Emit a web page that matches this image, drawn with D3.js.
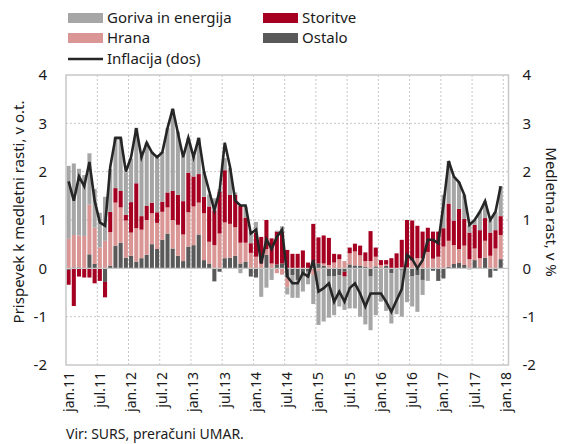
<!DOCTYPE html>
<html>
<head>
<meta charset="utf-8">
<script src="https://d3js.org/d3.v7.min.js"></script>
<style>
  body { margin:0; background:#fff; }
  text { font-family: "Noto Sans", sans-serif; fill:#1a1a1a; }
</style>
</head>
<body>
<div id="chart"></div>
<script>
// x axis labels (every 6th month)
const tickLabels = ["jan.11","jul.11","jan.12","jul.12","jan.13","jul.13","jan.14","jul.14",
                    "jan.15","jul.15","jan.16","jul.16","jan.17","jul.17","jan.18"];
const monthNames = ["jan","feb","mar","apr","maj","jun","jul","avg","sep","okt","nov","dec"];
const yTicks = [-2, -1, 0, 1, 2, 3, 4];

// contributions, jan.11 - dec.17 (p.p.)
const ostalo = [-0.03,0.02,0.02,0.0,0.29,0.09,0.0,-0.28,0.05,0.47,0.53,0.22,
                0.26,0.14,0.21,0.28,0.5,0.4,0.59,0.72,0.41,0.26,0.15,0.45,
                0.48,0.7,0.17,0.1,-0.27,-0.07,0.21,0.22,0.26,0.1,0.14,-0.17,
                -0.19,0.0,0.28,0.0,0.08,0.1,-0.19,-0.14,-0.24,-0.14,-0.07,0.1,
                0.1,0.05,-0.17,-0.17,-0.14,-0.07,0.08,0.06,0.05,0.03,-0.17,0.04,
                0.0,0.05,-0.1,0.0,-0.03,0.0,-0.17,-0.14,-0.24,0.0,-0.05,-0.26,
                -0.21,0.03,0.09,0.11,0.07,-0.02,0.17,0.02,0.22,-0.19,-0.05,0.19];
const hrana = [0.61,0.67,0.66,0.67,1.03,0.75,0.43,0.57,0.7,0.89,0.73,0.77,
               0.48,0.69,0.59,0.72,0.64,0.54,0.58,0.54,0.59,0.64,0.55,0.71,
               0.8,0.66,0.97,0.45,0.48,0.72,0.74,0.7,0.59,0.43,0.39,0.32,
               0.24,0.1,0.12,0.1,-0.1,-0.13,-0.2,0.0,0.0,0.0,0.0,-0.14,
               -0.05,0.05,0.07,0.12,0.19,0.15,0.23,0.29,0.22,0.12,0.15,0.2,
               0.07,0.03,0.0,0.0,0.02,0.02,0.16,0.21,0.21,0.34,0.2,0.24,
               0.45,0.54,0.39,0.29,0.4,0.19,0.24,0.19,0.35,0.26,0.41,0.5];
const storitve = [-0.31,-0.78,-0.17,-0.19,-0.19,-0.31,-0.26,-0.32,0.42,0.3,0.34,0.12,
                  0.63,0.93,0.28,0.29,0.22,0.22,0.21,0.31,0.6,0.62,0.69,0.82,
                  0.62,0.59,0.34,0.73,0.72,0.87,1.08,0.6,0.67,0.76,0.52,0.2,
                  0.5,0.55,0.6,0.52,0.68,0.65,0.38,0.3,0.3,0.37,0.12,0.82,
                  0.54,0.58,0.56,0.18,0.1,-0.1,0.12,0.16,0.2,0.18,0.62,0.19,
                  0.1,0.09,0.21,0.31,0.57,0.98,0.83,0.67,0.55,0.5,0.56,0.52,
                  0.38,0.77,0.51,0.83,0.55,0.55,0.49,0.58,0.47,0.48,0.38,0.39];
const goriva = [1.51,1.48,1.38,1.26,1.06,0.8,0.72,0.91,0.88,1.05,1.1,0.88,
                0.9,1.15,1.25,1.31,1.05,1.15,1.03,1.33,1.7,1.31,0.92,0.72,
                0.41,0.75,0.52,0.25,0.25,0.05,0.25,0.55,0.05,-0.1,0.23,0.24,
                0.22,-0.59,-0.4,-0.24,0.02,0.12,-0.15,-0.47,-0.37,-0.34,-0.26,-0.6,
                -1.12,-1.1,-0.85,-0.8,-0.65,-0.69,-0.83,-0.83,-1.0,-1.16,-1.11,-0.97,
                -0.69,-0.88,-1.04,-0.95,-0.97,-0.7,-0.62,-0.76,-0.31,-0.26,0.0,0.0,
                0.69,0.88,0.91,0.55,0.5,0.16,0.1,0.38,0.35,0.26,0.37,0.62];
// annual inflation, %
const inflacija = [1.8,1.4,1.9,1.7,2.2,1.4,0.95,0.88,2.1,2.7,2.7,2.0,
                   2.3,2.9,2.3,2.6,2.4,2.3,2.4,2.9,3.3,2.8,2.3,2.7,
                   2.3,2.7,2.0,1.6,1.2,1.6,2.6,2.1,1.4,1.3,1.3,0.72,
                   0.8,0.1,0.6,0.4,0.65,0.8,-0.17,-0.31,-0.31,-0.1,-0.17,0.17,
                   -0.48,-0.41,-0.31,-0.69,-0.48,-0.69,-0.41,-0.31,-0.52,-0.79,-0.52,-0.52,
                   -0.52,-0.69,-0.9,-0.66,-0.43,0.28,0.19,0.0,0.17,0.59,0.59,0.52,
                   1.31,2.22,1.9,1.78,1.52,0.9,1.0,1.17,1.39,1.0,1.17,1.7];

const months = [];
for (let yr = 11; yr <= 18; yr++) {
  for (let m = 0; m < 12; m++) {
    if (yr === 18 && m > 0) break;
    months.push(monthNames[m] + "." + yr);
  }
}

const keys = ["ostalo","hrana","storitve","goriva"];
const colors = {ostalo:"#595959", hrana:"#da9694", storitve:"#a50021", goriva:"#a6a6a6"};
const table = months.map((m, i) => ({
  month: m,
  ostalo: ostalo[i] ?? 0, hrana: hrana[i] ?? 0,
  storitve: storitve[i] ?? 0, goriva: goriva[i] ?? 0,
  infl: inflacija[i] ?? null
}));

const width = 565, height = 444;
const plotL = 66, plotR = 508.5, plotT = 75, plotB = 365;

const svg = d3.select("#chart").append("svg").attr("width", width).attr("height", height);

const x = d3.scaleBand().domain(months).range([plotL, plotR]).paddingInner(0.22).paddingOuter(0.11);
const y = d3.scaleLinear().domain([-2, 4]).range([plotB, plotT]);
const step = x.step();
const edge = d => x(d) - step * 0.11;

// gridlines
svg.append("g").selectAll("line").data([-1, 1, 2, 3]).join("line")
  .attr("x1", plotL).attr("x2", plotR)
  .attr("y1", d => y(d)).attr("y2", d => y(d))
  .attr("stroke", "#c8c8c8").attr("stroke-dasharray", "2,2");
svg.append("g").selectAll("line").data(tickLabels.slice(1)).join("line")
  .attr("x1", d => edge(d)).attr("x2", d => edge(d))
  .attr("y1", plotT).attr("y2", plotB)
  .attr("stroke", "#c8c8c8").attr("stroke-dasharray", "2,2");

// stacked bars
const series = d3.stack().keys(keys).offset(d3.stackOffsetDiverging)(table);
svg.append("g").selectAll("g").data(series).join("g")
  .attr("fill", s => colors[s.key])
  .selectAll("rect").data(s => s).join("rect")
  .attr("x", d => x(d.data.month))
  .attr("width", x.bandwidth())
  .attr("y", d => y(Math.max(d[0], d[1])))
  .attr("height", d => Math.abs(y(d[0]) - y(d[1])));

// zero line
svg.append("line").attr("x1", plotL).attr("x2", plotR)
  .attr("y1", y(0)).attr("y2", y(0)).attr("stroke", "#c8c8c8").attr("stroke-width", 1.2);

// frame
svg.append("rect").attr("x", plotL).attr("y", plotT)
  .attr("width", plotR - plotL).attr("height", plotB - plotT)
  .attr("fill", "none").attr("stroke", "#c8c8c8").attr("stroke-width", 1.5);

// inflation line
const line = d3.line()
  .defined(d => d.infl !== null)
  .x(d => x(d.month) + x.bandwidth() / 2)
  .y(d => y(d.infl));
svg.append("path").datum(table).attr("d", line)
  .attr("fill", "none").attr("stroke", "#262626").attr("stroke-width", 2.6);

// axes
const fmt = d => String(d);
const yLeft = svg.append("g").attr("transform", `translate(${plotL},0)`)
  .call(d3.axisLeft(y).tickValues(yTicks).tickFormat(fmt).tickSize(0).tickPadding(19));
const yRight = svg.append("g").attr("transform", `translate(${plotR},0)`)
  .call(d3.axisRight(y).tickValues(yTicks).tickFormat(fmt).tickSize(0).tickPadding(14));
[yLeft, yRight].forEach(g => {
  g.select(".domain").remove();
  g.selectAll("text").style("font-size", "15px").attr("fill", "#1a1a1a");
});

const xAxis = svg.append("g").attr("transform", `translate(0,${plotB})`)
  .call(d3.axisBottom(x).tickValues(tickLabels).tickSize(0));
xAxis.select(".domain").remove();
xAxis.selectAll("text")
  .attr("transform", "rotate(-90)")
  .attr("x", -7).attr("y", 0).attr("dy", "0.35em")
  .attr("text-anchor", "end")
  .style("font-size", "14px").attr("fill", "#1a1a1a");

// axis titles
svg.append("text").attr("transform", "translate(24,212) rotate(-90)")
  .attr("text-anchor", "middle").style("font-size", "15px")
  .text("Prispevek k medletni rasti, v o.t.");
svg.append("text").attr("transform", "translate(546,212) rotate(90)")
  .attr("text-anchor", "middle").style("font-size", "15px")
  .text("Medletna rast, v %");

// legend
const legendItems = [
  {label:"Goriva in energija", key:"goriva", lx:68, ly:13},
  {label:"Storitve", key:"storitve", lx:263, ly:13},
  {label:"Hrana", key:"hrana", lx:68, ly:33},
  {label:"Ostalo", key:"ostalo", lx:263, ly:33}
];
const lg = svg.append("g");
legendItems.forEach(it => {
  lg.append("rect").attr("x", it.lx).attr("y", it.ly).attr("width", 35).attr("height", 10)
    .attr("fill", colors[it.key]);
  lg.append("text").attr("x", it.lx + 39).attr("y", it.ly + 10).style("font-size", "15px").text(it.label);
});
lg.append("line").attr("x1", 68).attr("x2", 103).attr("y1", 59).attr("y2", 59)
  .attr("stroke", "#262626").attr("stroke-width", 2.6);
lg.append("text").attr("x", 107).attr("y", 64).style("font-size", "15px").text("Inflacija (dos)");

// source
svg.append("text").attr("x", 66).attr("y", 439).style("font-size", "14px")
  .text("Vir: SURS, preračuni UMAR.");
</script>
</body>
</html>
